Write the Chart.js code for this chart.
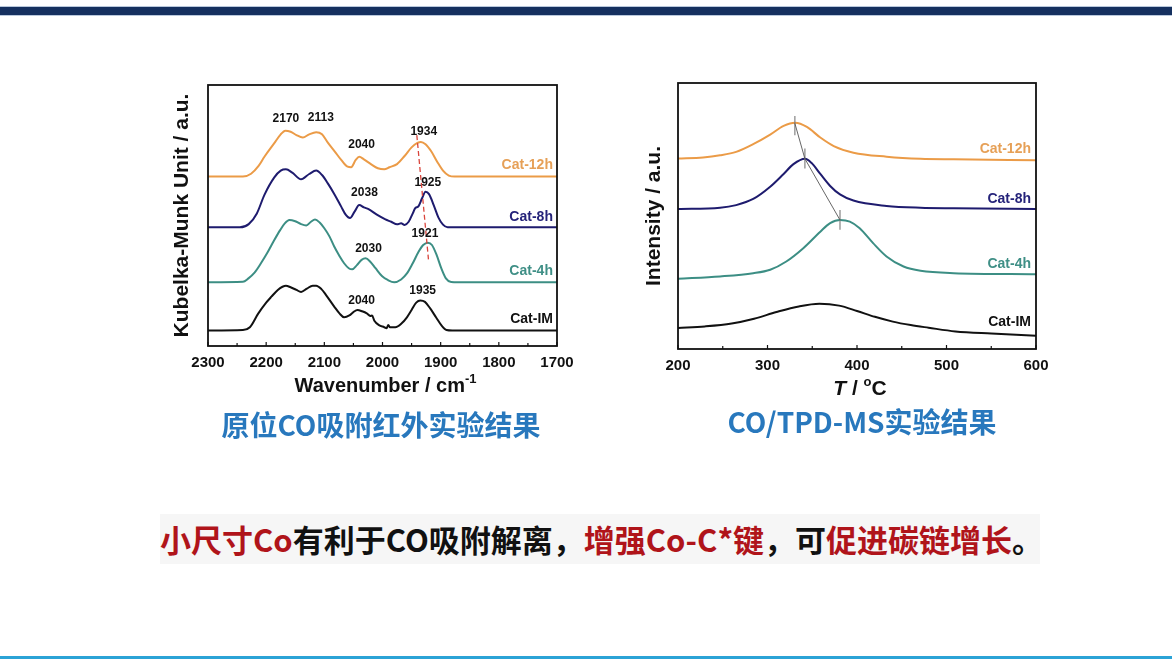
<!DOCTYPE html>
<html lang="zh-CN">
<head>
    <meta charset="UTF-8">
    <meta name="viewport" content="width=device-width, initial-scale=1.0">
    <title>CO adsorption: IR and TPD-MS</title>
    <script src="https://cdn.jsdelivr.net/npm/chart.js"></script>
    <style>
        body { margin: 0; background: #fff; }
        #slide { position: relative; width: 1172px; height: 659px; overflow: hidden; background: #fff; }
        .topbar { position: absolute; left: 0; top: 6px; width: 100%; height: 8px; background: #15305f;
                  border-top: 1px solid #b9c8dc; border-bottom: 1px solid #b9c8dc; }
        .bottomline { position: absolute; left: 0; top: 656px; width: 100%; height: 3px; background: #2ba3d6; }
        canvas { position: absolute; }
        #irChart { left: 150px; top: 70px; }
        #tpdChart { left: 620px; top: 70px; }
        .caption { position: absolute; width: 420px; text-align: center; white-space: nowrap;
                   font-family: "Noto Sans CJK SC", sans-serif; font-weight: 700; font-size: 28px;
                   line-height: 32px; color: #2878bd; }
        #cap1 { left: 171px; top: 408px; }
        #cap2 { left: 652px; top: 405px; }
        #note { position: absolute; left: 160px; top: 514px; width: 880px; height: 50px; background: #f6f6f6;
                text-align: center; white-space: nowrap; font-family: "Noto Sans CJK SC", sans-serif;
                font-weight: 700; font-size: 31px; line-height: 50px; color: #111; }
        .red { color: #b0141a; }
    </style>
</head>
<body>
<div id="slide">
    <div class="topbar"></div>
    <canvas id="irChart" width="430" height="335"></canvas>
    <canvas id="tpdChart" width="430" height="335"></canvas>
    <div class="caption" id="cap1">原位CO吸附红外实验结果</div>
    <div class="caption" id="cap2">CO/TPD-MS实验结果</div>
    <div id="note"><span class="red">小尺寸Co</span>有利于CO吸附解离，<span class="red">增强Co-C*键</span>，可<span class="red">促进碳链增长</span>。</div>
    <div class="bottomline"></div>
</div>
<script>
    // ---- in situ CO IR spectra (wavenumber, Kubelka-Munk, stacked) ----
    var irWave12h = [2300, 2240, 2226, 2213, 2203, 2186, 2175, 2167, 2158, 2148, 2137, 2126, 2114, 2104, 2094, 2082, 2071, 2060, 2054, 2046, 2040, 2032, 2020, 2008, 1997, 1988, 1975, 1962, 1950, 1940, 1934, 1926, 1916, 1906, 1896, 1886, 1876, 1700];
    var irInt12h  = [64.9, 64.9, 66.0, 69.0, 72.5, 77.7, 81.1, 82.5, 82.1, 80.8, 79.9, 81.1, 81.9, 81.1, 77.9, 74.5, 71.3, 68.7, 68.5, 71.3, 72.5, 71.5, 69.7, 68.1, 67.7, 68.5, 69.7, 72.8, 76.1, 77.8, 78.2, 77.3, 74.5, 70.6, 67.2, 65.3, 64.9, 64.9];

    var irWave8h = [2300, 2245, 2230, 2216, 2203, 2186, 2175, 2166, 2155, 2140, 2126, 2114, 2104, 2094, 2082, 2071, 2063, 2056, 2048, 2040, 2032, 2024, 2009, 1995, 1985, 1975, 1968, 1962, 1955, 1948, 1944, 1938, 1932, 1926, 1920, 1912, 1904, 1896, 1888, 1700];
    var irInt8h  = [45.5, 45.5, 46.7, 50.8, 57.9, 64.6, 67.2, 67.7, 66.4, 63.9, 65.9, 67.2, 65.5, 62.3, 57.9, 53.4, 50.2, 49.0, 51.5, 54.0, 53.1, 52.4, 50.2, 48.5, 47.6, 46.6, 47.0, 46.4, 47.6, 50.8, 52.7, 53.6, 56.6, 59.1, 58.2, 54.0, 49.3, 46.5, 45.5, 45.5];

    var irWave4h = [2300, 2240, 2231, 2220, 2209, 2197, 2186, 2176, 2168, 2160, 2150, 2140, 2131, 2123, 2116, 2108, 2100, 2091, 2083, 2074, 2066, 2058, 2052, 2044, 2036, 2029, 2021, 2012, 2001, 1991, 1980, 1968, 1958, 1948, 1938, 1930, 1922, 1915, 1907, 1899, 1891, 1882, 1870, 1700];
    var irInt4h  = [24.4, 24.6, 25.8, 28.1, 31.7, 36.1, 40.6, 44.4, 47.0, 48.3, 47.8, 46.7, 46.2, 47.6, 48.5, 47.3, 45.1, 41.9, 38.1, 34.5, 31.7, 29.8, 29.4, 31.0, 33.0, 33.6, 32.3, 29.8, 26.8, 25.3, 24.4, 25.5, 27.8, 31.7, 36.1, 38.7, 39.6, 38.7, 34.9, 29.8, 25.9, 24.5, 24.4, 24.4];

    var irWaveIM = [2300, 2240, 2228, 2214, 2200, 2191, 2180, 2172, 2166, 2158, 2148, 2140, 2130, 2120, 2114, 2105, 2097, 2083, 2074, 2066, 2057, 2050, 2043, 2035, 2027, 2021, 2018, 2014, 2006, 1997, 1993, 1990, 1987, 1978, 1967, 1958, 1950, 1942, 1935, 1927, 1918, 1908, 1898, 1890, 1880, 1700];
    var irIntIM  = [5.9, 6.1, 7.2, 12.3, 16.6, 18.9, 21.5, 22.7, 23.1, 22.5, 21.5, 20.7, 22.0, 23.1, 23.1, 21.8, 19.5, 15.1, 12.5, 11.0, 11.7, 13.0, 13.8, 13.3, 12.5, 11.5, 11.7, 9.7, 8.0, 7.2, 6.8, 8.0, 7.2, 7.2, 8.7, 11.0, 13.8, 16.6, 17.4, 16.9, 14.4, 11.0, 7.7, 6.1, 5.9, 5.9];

    // red dashed guide through the bridge-CO peaks
    var irShiftWave = [1941, 1921];
    var irShiftInt  = [80.8, 33.2];

    // ---- CO-TPD-MS (temperature, intensity, stacked) ----
    var tpdT12h   = [200, 228, 247, 265, 284, 303, 318, 331, 344, 359, 374, 396, 433, 471, 508, 600];
    var tpdInt12h = [71.6, 72.0, 72.8, 74.1, 77.0, 80.6, 83.9, 85.1, 83.5, 79.5, 76.3, 73.8, 72.3, 71.5, 71.3, 71.0];

    var tpdT8h   = [200, 247, 265, 284, 303, 318, 329, 342, 349, 359, 370, 381, 396, 433, 471, 508, 600];
    var tpdInt8h = [52.6, 53.1, 54.1, 56.4, 61.0, 65.8, 69.5, 71.5, 70.0, 65.8, 61.3, 58.1, 55.8, 53.8, 53.1, 52.9, 52.6];

    var tpdT4h   = [200, 247, 284, 303, 321, 340, 359, 370, 381, 392, 403, 418, 433, 452, 471, 508, 600];
    var tpdInt4h = [26.4, 27.3, 28.5, 29.8, 32.9, 37.9, 44.1, 47.3, 48.5, 47.9, 45.4, 39.8, 34.8, 31.0, 29.4, 28.5, 28.1];

    var tpdTIM   = [200, 230, 260, 285, 310, 335, 358, 380, 400, 420, 440, 460, 480, 510, 550, 600];
    var tpdIntIM = [7.9, 8.5, 9.6, 11.4, 13.9, 16.0, 17.0, 16.3, 14.3, 12.1, 10.3, 9.0, 8.0, 6.6, 5.8, 5.0];

    // peak maxima joined by a thin line, each marked by a short vertical bar
    var tpdPeakT   = [330.6, 341.8, 381];
    var tpdPeakInt = [84.8, 71.5, 48.5];
    var tpdBarLow  = [80.4, 67.9, 44.8];
    var tpdBarHigh = [87.6, 75.4, 52.3];

    var seriesNames = ['Cat-12h', 'Cat-8h', 'Cat-4h', 'Cat-IM'];
    var seriesColors = ['#eb9b47', '#1e1b6e', '#3c8e84', '#111111'];
    var labelColors = ['#e6a057', '#25237a', '#3f8f86', '#111111'];

    var irPeakLabels = ['2170', '2113', '2040', '1934', '2038', '1925', '2030', '1921', '2040', '1935'];

    var fontFamily = '"Liberation Sans", Arial, sans-serif';

    function curve(label, xs, ys, color) {
        return {
            label: label,
            data: xs.map(function(v, i) { return {x: v, y: ys[i]}; }),
            borderColor: color,
            borderWidth: 2,
            pointRadius: 0,
            cubicInterpolationMode: 'monotone',
            fill: false,
            order: 1
        };
    }

    function guide(xs, ys, color, width, dash) {
        return {
            label: '',
            data: xs.map(function(v, i) { return {x: v, y: ys[i]}; }),
            borderColor: color,
            borderWidth: width,
            borderDash: dash || [],
            pointRadius: 0,
            tension: 0,
            fill: false,
            order: 0
        };
    }

    // box frame plus inward major/minor ticks on the bottom axis
    function framePlugin(minorStep) {
        return {
            id: 'frame',
            afterDraw: function(chart) {
                var ctx = chart.ctx, a = chart.chartArea, x = chart.scales.x;
                ctx.save();
                ctx.strokeStyle = '#111';
                ctx.lineWidth = 1.8;
                ctx.strokeRect(a.left, a.top, a.right - a.left, a.bottom - a.top);
                ctx.lineWidth = 1.2;
                x.ticks.forEach(function(t) {
                    var px = x.getPixelForValue(t.value);
                    ctx.beginPath(); ctx.moveTo(px, a.bottom); ctx.lineTo(px, a.bottom - 4); ctx.stroke();
                    var m = t.value + minorStep;
                    if (m < x.max) {
                        var pm = x.getPixelForValue(m);
                        ctx.beginPath(); ctx.moveTo(pm, a.bottom); ctx.lineTo(pm, a.bottom - 3); ctx.stroke();
                    }
                });
                ctx.restore();
            }
        };
    }

    // text notes placed in data coordinates
    function notesPlugin(items) {
        return {
            id: 'notes',
            afterDatasetsDraw: function(chart) {
                var ctx = chart.ctx, x = chart.scales.x, y = chart.scales.y;
                ctx.save();
                ctx.textBaseline = 'middle';
                items.forEach(function(n) {
                    ctx.font = 'bold ' + n.size + 'px ' + fontFamily;
                    ctx.fillStyle = n.color;
                    ctx.textAlign = n.align;
                    ctx.fillText(n.text, x.getPixelForValue(n.x), y.getPixelForValue(n.y));
                });
                ctx.restore();
            }
        };
    }

    // x axis title built from pieces (italic / superscript parts)
    function xTitlePlugin(parts, dx, dy) {
        return {
            id: 'xTitle',
            afterDraw: function(chart) {
                var ctx = chart.ctx, a = chart.chartArea;
                ctx.save();
                ctx.fillStyle = '#111';
                ctx.textBaseline = 'alphabetic';
                ctx.textAlign = 'left';
                var total = 0;
                parts.forEach(function(p) {
                    ctx.font = p.font;
                    p.w = ctx.measureText(p.t).width;
                    total += p.w;
                });
                var cx = (a.left + a.right) / 2 + dx - total / 2;
                var base = chart.height - dy;
                parts.forEach(function(p) {
                    ctx.font = p.font;
                    ctx.fillText(p.t, cx, base - (p.rise || 0));
                    cx += p.w;
                });
                ctx.restore();
            }
        };
    }

    function axes(xMin, xMax, reverse, yTitle, yTitlePad, xHeight) {
        return {
            x: {
                type: 'linear', min: xMin, max: xMax, reverse: reverse,
                grid: { display: false, drawTicks: false },
                border: { display: false },
                ticks: {
                    stepSize: 100, padding: 8, color: '#111',
                    font: { family: fontFamily, size: 15, weight: 'bold' },
                    callback: function(v) { return String(v); }
                },
                afterFit: function(s) {
                    s.height = xHeight;
                    s.paddingLeft = 0;
                    s.paddingRight = 0;
                }
            },
            y: {
                min: 0, max: 100,
                grid: { display: false, drawTicks: false },
                border: { display: false },
                ticks: { display: false },
                title: {
                    display: true, text: yTitle, color: '#111',
                    font: { family: fontFamily, size: 21, weight: 'bold' },
                    padding: { top: yTitlePad, bottom: 0 }
                },
                afterFit: function(s) { s.width = 58; }
            }
        };
    }

    // ---------------- IR chart ----------------
    var irNotes = [
        {text: irPeakLabels[0], x: 2166, y: 87.2},
        {text: irPeakLabels[1], x: 2106, y: 87.6},
        {text: irPeakLabels[2], x: 2036, y: 77.0},
        {text: irPeakLabels[3], x: 1929, y: 82.1},
        {text: irPeakLabels[4], x: 2031, y: 58.9},
        {text: irPeakLabels[5], x: 1922, y: 62.7},
        {text: irPeakLabels[6], x: 2024, y: 37.4},
        {text: irPeakLabels[7], x: 1927, y: 42.9},
        {text: irPeakLabels[8], x: 2036, y: 17.4},
        {text: irPeakLabels[9], x: 1931, y: 21.2}
    ].map(function(n) { n.size = 12; n.color = '#111'; n.align = 'center'; return n; });
    [69.3, 49.3, 28.7, 10.2].forEach(function(yv, i) {
        irNotes.push({text: seriesNames[i], x: 1707, y: yv, size: 14, color: labelColors[i], align: 'right'});
    });

    new Chart(document.getElementById('irChart'), {
        type: 'line',
        data: {
            datasets: [
                guide(irShiftWave, irShiftInt, '#d9453c', 1.3, [5, 3]),
                curve(seriesNames[0], irWave12h, irInt12h, seriesColors[0]),
                curve(seriesNames[1], irWave8h, irInt8h, seriesColors[1]),
                curve(seriesNames[2], irWave4h, irInt4h, seriesColors[2]),
                curve(seriesNames[3], irWaveIM, irIntIM, seriesColors[3])
            ]
        },
        options: {
            responsive: false,
            animation: false,
            layout: { padding: { top: 15, right: 23, left: 0, bottom: 0 } },
            plugins: { legend: { display: false }, tooltip: { enabled: false } },
            scales: axes(1700, 2300, true, 'Kubelka-Munk Unit / a.u.', 20, 59)
        },
        plugins: [
            framePlugin(50),
            notesPlugin(irNotes),
            xTitlePlugin([
                {t: 'Wavenumber / cm', font: 'bold 20px ' + fontFamily},
                {t: '-1', font: 'bold 13px ' + fontFamily, rise: 9}
            ], 3, 13)
        ]
    });

    // ---------------- TPD chart ----------------
    var tpdNotes = [];
    [75.1, 56.4, 32.0, 10.0].forEach(function(yv, i) {
        tpdNotes.push({text: seriesNames[i], x: 594.4, y: yv, size: 14, color: labelColors[i], align: 'right'});
    });

    var tpdSets = [guide(tpdPeakT, tpdPeakInt, '#555', 0.9)];
    tpdPeakT.forEach(function(t, i) {
        tpdSets.push(guide([t, t], [tpdBarLow[i], tpdBarHigh[i]], '#777', 1.1));
    });
    tpdSets.push(curve(seriesNames[0], tpdT12h, tpdInt12h, seriesColors[0]));
    tpdSets.push(curve(seriesNames[1], tpdT8h, tpdInt8h, seriesColors[1]));
    tpdSets.push(curve(seriesNames[2], tpdT4h, tpdInt4h, seriesColors[2]));
    tpdSets.push(curve(seriesNames[3], tpdTIM, tpdIntIM, seriesColors[3]));

    new Chart(document.getElementById('tpdChart'), {
        type: 'line',
        data: { datasets: tpdSets },
        options: {
            responsive: false,
            animation: false,
            layout: { padding: { top: 13, right: 14, left: 0, bottom: 0 } },
            plugins: { legend: { display: false }, tooltip: { enabled: false } },
            scales: axes(200, 600, false, 'Intensity / a.u.', 22, 56)
        },
        plugins: [
            framePlugin(50),
            notesPlugin(tpdNotes),
            xTitlePlugin([
                {t: 'T', font: 'italic bold 21px ' + fontFamily},
                {t: ' / ', font: 'bold 21px ' + fontFamily},
                {t: 'o', font: 'bold 13px ' + fontFamily, rise: 9},
                {t: 'C', font: 'bold 21px ' + fontFamily}
            ], 3, 10)
        ]
    });
</script>
</body>
</html>
